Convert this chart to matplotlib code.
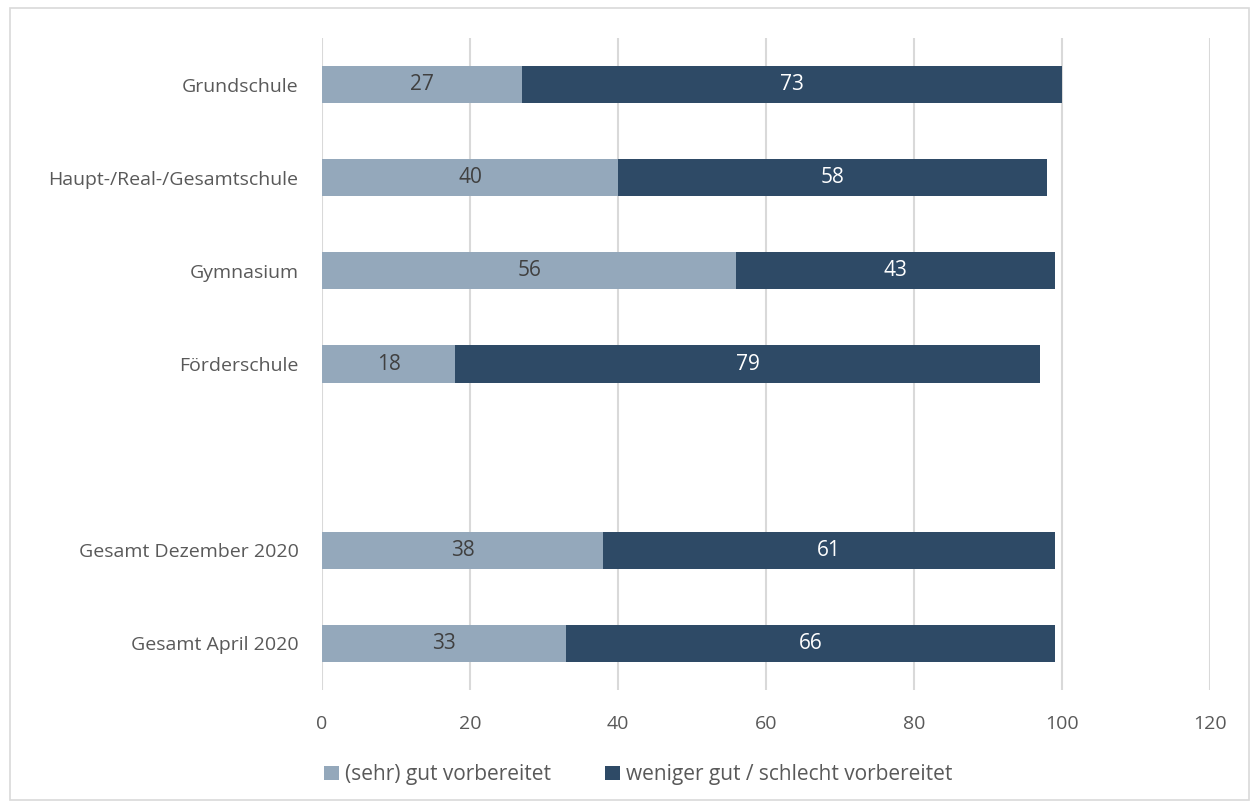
import matplotlib.pyplot as plt
from matplotlib.patches import Rectangle

categories = ['Grundschule', 'Haupt-/Real-/Gesamtschule', 'Gymnasium', 'Förderschule',
              'Gesamt Dezember 2020', 'Gesamt April 2020']
gut = [27, 40, 56, 18, 38, 33]
schlecht = [73, 58, 43, 79, 61, 66]
series_names = ['(sehr) gut vorbereitet', 'weniger gut / schlecht vorbereitet']

plt.rcParams['font.family'] = ['Open Sans', 'DejaVu Sans']

light = '#94A8BB'
dark = '#2E4A66'
txt = '#595959'

# leave an empty slot between the school types and the totals
ypos = [0, 1, 2, 3, 5, 6]

fig = plt.figure(figsize=(12.57, 8.08), dpi=100)
ax = fig.add_axes([0.2562, 0.146, 0.7064, 0.807])

b1 = ax.barh(ypos, gut, height=0.4, color=light, label=series_names[0])
b2 = ax.barh(ypos, schlecht, left=gut, height=0.4, color=dark, label=series_names[1])
ax.bar_label(b1, label_type='center', color='#404040', fontsize=15)
ax.bar_label(b2, label_type='center', color='white', fontsize=15)

ax.set_xlim(0, 120)
ax.set_ylim(6.5, -0.5)
ax.set_xticks(range(0, 121, 20))
ax.set_yticks(ypos)
ax.set_yticklabels(categories)
ax.tick_params(axis='both', length=0, labelsize=14, colors=txt)
ax.tick_params(axis='y', pad=17)
ax.tick_params(axis='x', pad=18)
ax.grid(axis='x', color='#D9D9D9', linewidth=1.5)
ax.set_axisbelow(True)
for s in ax.spines.values():
    s.set_visible(False)

leg = fig.legend(loc='center', bbox_to_anchor=(0.508, 0.041), ncol=2, frameon=False,
                 fontsize=15, handlelength=0.7, handleheight=0.7, handletextpad=0.3,
                 columnspacing=2.6)
for t in leg.get_texts():
    t.set_color(txt)

fig.patches.append(Rectangle((0.008, 0.01), 0.986, 0.98, transform=fig.transFigure,
                             fill=False, edgecolor='#D9D9D9', linewidth=1.2))

fig.savefig('out.png', dpi=100, facecolor='white')
